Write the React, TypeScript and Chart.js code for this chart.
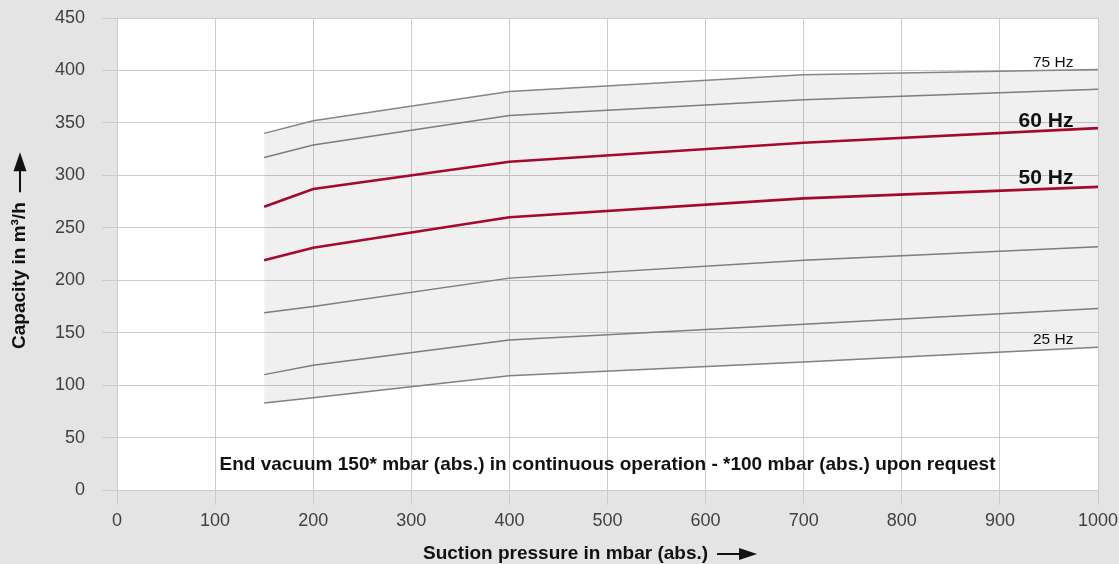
import React, { useEffect, useRef } from "react";
import { Chart, registerables } from "chart.js";

Chart.register(...registerables);

// Suction pressure in mbar (abs.)
const pressure = [150, 200, 400, 700, 1000];
// Capacity in m³/h for each frequency curve
const cap75 = [340, 352, 380, 396, 401];
const cap70 = [317, 329, 357, 372, 382];
const cap60 = [270, 287, 313, 331, 345];
const cap50 = [219, 231, 260, 278, 289];
const cap40 = [169, 175, 202, 219, 232];
const cap30 = [110, 119, 143, 158, 173];
const cap25 = [83, 88, 109, 122, 136];

const xTicks = [0, 100, 200, 300, 400, 500, 600, 700, 800, 900, 1000];
const yTicks = [0, 50, 100, 150, 200, 250, 300, 350, 400, 450];

// Curve labels: text, anchor (x value, y value), bold
const hzLabelText = ["75 Hz", "60 Hz", "50 Hz", "25 Hz"];
const hzLabelX = [975, 975, 975, 975];
const hzLabelY = [407.5, 351.5, 297, 143];
const hzLabelBold = [false, true, true, false];

const noteText =
  "End vacuum 150* mbar (abs.) in continuous operation - *100 mbar (abs.) upon request";
const noteX = 500;
const noteY = 24;

const xTitle = "Suction pressure in mbar (abs.)";
const yTitle = "Capacity in m³/h";

const FONT = "'Liberation Sans', Arial, Helvetica, sans-serif";
const GRAY = "#858585";
const RED = "#b00a30";

function pts(ys: number[]) {
  return pressure.map((x, i) => ({ x, y: ys[i] }));
}

const decorPlugin = {
  id: "decor",
  beforeDraw(chart: any) {
    const { ctx, chartArea, width, height } = chart;
    ctx.save();
    ctx.fillStyle = "#e4e4e4";
    ctx.fillRect(0, 0, width, height);
    ctx.fillStyle = "#ffffff";
    ctx.fillRect(
      chartArea.left,
      chartArea.top,
      chartArea.right - chartArea.left,
      chartArea.bottom - chartArea.top
    );
    ctx.restore();
  },
  afterDraw(chart: any) {
    const { ctx, scales } = chart;
    const xs = scales.x;
    const ys = scales.y;
    ctx.save();
    ctx.fillStyle = "#111111";
    // Hz labels
    hzLabelText.forEach((t, i) => {
      ctx.font = hzLabelBold[i] ? `bold 21px ${FONT}` : `15.5px ${FONT}`;
      ctx.textAlign = "right";
      ctx.textBaseline = "middle";
      ctx.fillText(t, xs.getPixelForValue(hzLabelX[i]), ys.getPixelForValue(hzLabelY[i]));
    });
    // Note
    ctx.font = `bold 19px ${FONT}`;
    ctx.textAlign = "center";
    ctx.textBaseline = "middle";
    ctx.fillText(noteText, xs.getPixelForValue(noteX), ys.getPixelForValue(noteY));

    // X title with arrow
    ctx.font = `bold 19px ${FONT}`;
    ctx.textAlign = "left";
    ctx.textBaseline = "middle";
    const tx = 423;
    const ty = 554;
    ctx.fillText(xTitle, tx, ty);
    const tw = ctx.measureText(xTitle).width;
    const ax0 = tx + tw + 9;
    const ax1 = ax0 + 40;
    ctx.strokeStyle = "#111111";
    ctx.lineWidth = 2;
    ctx.beginPath();
    ctx.moveTo(ax0, ty);
    ctx.lineTo(ax1 - 14, ty);
    ctx.stroke();
    ctx.beginPath();
    ctx.moveTo(ax1, ty);
    ctx.lineTo(ax1 - 18, ty - 6);
    ctx.lineTo(ax1 - 18, ty + 6);
    ctx.closePath();
    ctx.fill();

    // Y title with arrow (rotated)
    ctx.save();
    ctx.translate(20, 349);
    ctx.rotate(-Math.PI / 2);
    ctx.textAlign = "left";
    ctx.textBaseline = "middle";
    ctx.fillText(yTitle, 0, 0);
    const yw = ctx.measureText(yTitle).width;
    const b0 = yw + 10;
    const b1 = b0 + 40;
    ctx.beginPath();
    ctx.moveTo(b0, 0);
    ctx.lineTo(b1 - 14, 0);
    ctx.stroke();
    ctx.beginPath();
    ctx.moveTo(b1, 0);
    ctx.lineTo(b1 - 19, -6.5);
    ctx.lineTo(b1 - 19, 6.5);
    ctx.closePath();
    ctx.fill();
    ctx.restore();

    ctx.restore();
  },
};

export default function App() {
  const ref = useRef<HTMLCanvasElement | null>(null);

  useEffect(() => {
    document.body.style.margin = "0";
    document.body.style.background = "#e4e4e4";
    if (!ref.current) return;
    const grayLine = (label: string, ys: number[], extra: any = {}) => ({
      label,
      data: pts(ys),
      borderColor: GRAY,
      borderWidth: 1.5,
      pointRadius: 0,
      tension: 0,
      fill: false,
      ...extra,
    });
    const redLine = (label: string, ys: number[]) => ({
      label,
      data: pts(ys),
      borderColor: RED,
      borderWidth: 2.6,
      pointRadius: 0,
      tension: 0,
      fill: false,
    });
    const chart = new Chart(ref.current, {
      type: "line",
      data: {
        datasets: [
          grayLine("75 Hz", cap75, { fill: 6, backgroundColor: "rgba(0,0,0,0.06)" }),
          grayLine("70 Hz", cap70),
          redLine("60 Hz", cap60),
          redLine("50 Hz", cap50),
          grayLine("40 Hz", cap40),
          grayLine("30 Hz", cap30),
          grayLine("25 Hz", cap25),
        ],
      },
      options: {
        responsive: false,
        animation: false,
        layout: { padding: { left: 0, right: 21, top: 18, bottom: 0 } },
        plugins: { legend: { display: false }, tooltip: { enabled: false } },
        scales: {
          x: {
            type: "linear",
            min: 0,
            max: 1000,
            afterBuildTicks: (s: any) => {
              s.ticks = xTicks.map((v) => ({ value: v }));
            },
            afterFit: (s: any) => {
              s.height = 74;
              s.paddingLeft = 0;
              s.paddingRight = 0;
            },
            grid: { color: "#cccccc", lineWidth: 1, tickLength: 15 },
            border: { color: "#cccccc" },
            ticks: {
              color: "#404040",
              font: { family: FONT, size: 18 },
              padding: 5,
              maxRotation: 0,
              callback: (v: any) => String(v),
            },
          },
          y: {
            type: "linear",
            min: 0,
            max: 450,
            afterBuildTicks: (s: any) => {
              s.ticks = yTicks.map((v) => ({ value: v }));
            },
            afterFit: (s: any) => {
              s.width = 117;
              s.paddingTop = 0;
              s.paddingBottom = 0;
            },
            grid: { color: "#cccccc", lineWidth: 1, tickLength: 15 },
            border: { color: "#cccccc" },
            ticks: {
              color: "#404040",
              font: { family: FONT, size: 18 },
              padding: 17,
              callback: (v: any) => String(v),
            },
          },
        },
      },
      plugins: [decorPlugin],
    } as any);
    return () => chart.destroy();
  }, []);

  return (
    <canvas
      ref={ref}
      width={1119}
      height={564}
      style={{ display: "block", width: 1119, height: 564 }}
    />
  );
}
